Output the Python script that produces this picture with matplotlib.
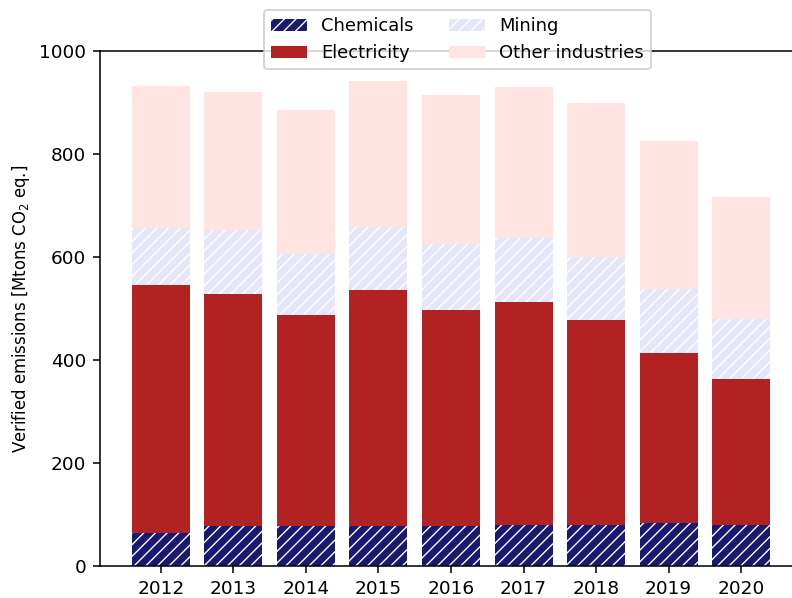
import numpy as np
import matplotlib
matplotlib.use("Agg")
import matplotlib.pyplot as plt

# Verified emissions per sector [Mtons CO2 eq.]
years = [2012, 2013, 2014, 2015, 2016, 2017, 2018, 2019, 2020]
chemicals = [65, 78, 78, 78, 78, 80, 80, 83, 80]
electricity = [480, 450, 409, 457, 420, 432, 397, 331, 283]
mining = [111, 125, 118, 123, 127, 125, 123, 123, 116]
other_industries = [277, 267, 280, 283, 290, 294, 300, 288, 237]

plt.rcParams["hatch.linewidth"] = 0.7

dpi = 140
fig = plt.figure(figsize=(792 / dpi, 598 / dpi), dpi=dpi)
ax = fig.add_axes([100 / 792, 1 - 566 / 598, 702 / 792, 515 / 598])

x = np.array(years)
bottom = np.zeros(len(years))

ax.bar(x, chemicals, bottom=bottom, color="midnightblue", edgecolor="white",
       linewidth=0, hatch="////", label="Chemicals")
bottom += chemicals
ax.bar(x, electricity, bottom=bottom, color="firebrick", linewidth=0,
       label="Electricity")
bottom += electricity
ax.bar(x, mining, bottom=bottom, color="lavender", edgecolor="white",
       linewidth=0, hatch="////", label="Mining")
bottom += mining
ax.bar(x, other_industries, bottom=bottom, color="mistyrose", linewidth=0,
       label="Other industries")

ax.set_ylim(0, 1000)
ax.set_xticks(years)
ax.tick_params(labelsize=9.5)
ax.set_ylabel("Verified emissions [Mtons CO$_2$ eq.]", fontsize=8.5)
ax.spines["right"].set_visible(False)

fig.legend(loc="upper center", ncol=2, fontsize=9.2,
           bbox_to_anchor=(457.5 / 792, 1 - 1 / 598),
           bbox_transform=fig.transFigure)

fig.savefig("out.png", dpi=dpi)
